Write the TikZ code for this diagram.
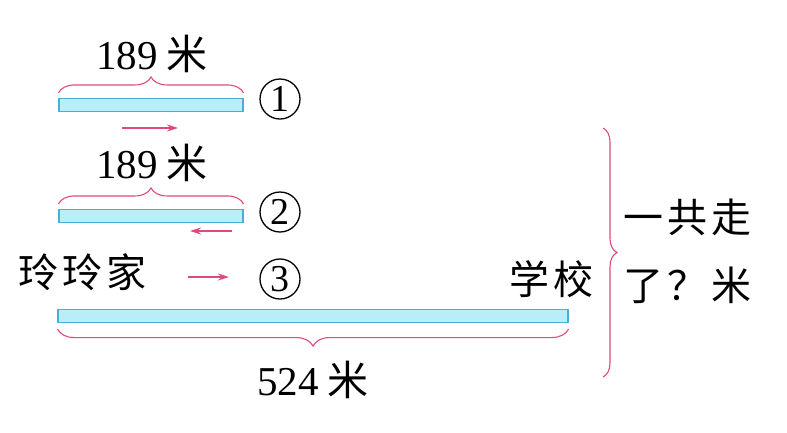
\documentclass[tikz,border=0pt]{standalone}
\usepackage{fontspec}
\setmainfont{Liberation Serif}
\newfontfamily\cjk{Noto Sans CJK SC}
\usetikzlibrary{decorations.pathreplacing,arrows.meta}
\definecolor{pinkc}{HTML}{E2487F}
\definecolor{barfill}{HTML}{B8EEF8}
\definecolor{barline}{HTML}{45B2D4}
\begin{document}
\begin{tikzpicture}[x=1pt,y=-1pt,
  bar/.style={draw=barline,fill=barfill,line width=1.1pt,inner sep=0pt,minimum height=13pt},
  br/.style={draw=pinkc,line width=1.1pt,decorate,decoration={brace,amplitude=#1}},
  br/.default=16pt,
  parrow/.style={draw=pinkc,line width=1.5pt,-{Stealth[length=11pt,width=7pt]}},
  num/.style={font=\fontsize{41}{44}\selectfont,inner sep=0pt},
  cn/.style={font=\fontsize{40}{44}\selectfont\cjk,inner sep=0pt},
  circ/.style={draw,circle,line width=1.3pt,minimum size=40pt,inner sep=0pt,font=\fontsize{38}{40}\selectfont}]
\useasboundingbox (0,0) rectangle (787,432);
% bars
\node[bar,minimum width=184pt] (b1) at (151,105) {};
\node[bar,minimum width=184pt] (b2) at (151,216) {};
\node[bar,minimum width=510pt] (b3) at (313,316) {};
% braces
\draw[br] ([yshift=5pt]b1.north west) -- ([yshift=5pt]b1.north east);
\draw[br] ([yshift=5pt]b2.north west) -- ([yshift=5pt]b2.north east);
\draw[br=17pt] ([yshift=-6pt]b3.south east) -- ([yshift=-6pt]b3.south west);
\coordinate (bt) at (603,128);
\coordinate (bb) at (603,377);
\draw[br=14pt] (bt) -- (bb);
% labels
\node[num] (l1) at (152,54) {189\hspace{9pt}{\cjk 米}};
\node[num] (l2) at (152,163) {189\hspace{9pt}{\cjk 米}};
\node[num] (l3) at (313,380) {524\hspace{9pt}{\cjk 米}};
\node[circ] (c1) at (280,99) {1};
\node[circ] (c2) at (280,212) {2};
\node[circ] (c3) at (280,279) {3};
\node[cn] (home) at (82,272) {玲\hspace{4pt}玲\hspace{4pt}家};
\node[cn] (school) at (551,279) {学\hspace{4pt}校};
\node[cn] (q1) at (687,217) {一\hspace{4pt}共\hspace{4pt}走};
\node[cn] (q2) at (687,285) {了\hspace{4pt}？\hspace{4pt}米};
% arrows
\coordinate (a1s) at (122,128); \coordinate (a1e) at (178,128);
\coordinate (a2s) at (232,231); \coordinate (a2e) at (190,231);
\coordinate (a3s) at (188,277); \coordinate (a3e) at (229,277);
\draw[parrow] (a1s) -- (a1e);
\draw[parrow] (a2s) -- (a2e);
\draw[parrow] (a3s) -- (a3e);
\end{tikzpicture}
\end{document}
